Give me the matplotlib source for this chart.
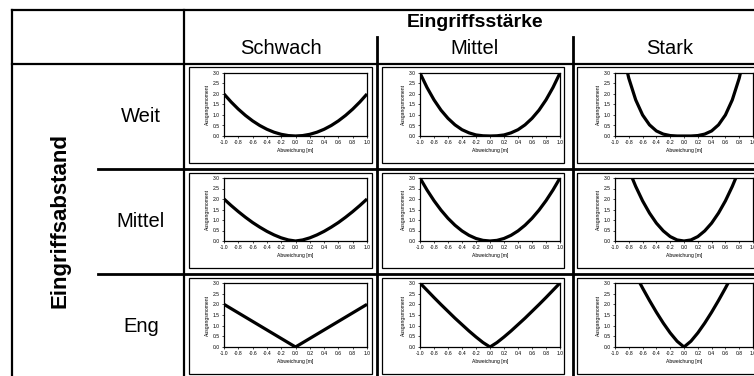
import matplotlib.pyplot as plt
from matplotlib.patches import Rectangle
from matplotlib.ticker import FormatStrFormatter

plt.rcParams['font.family'] = ['Liberation Sans', 'DejaVu Sans']

W, H = 754, 376

# Abweichung [m] and Ausgangsmoment per cell
abweichung = [-1.0, -0.9, -0.8, -0.7, -0.6, -0.5, -0.4, -0.3, -0.2, -0.1, 0.0,
              0.1, 0.2, 0.3, 0.4, 0.5, 0.6, 0.7, 0.8, 0.9, 1.0]

weit_schwach = [2.00, 1.62, 1.28, 0.98, 0.72, 0.50, 0.32, 0.18, 0.08, 0.02, 0.00,
                0.02, 0.08, 0.18, 0.32, 0.50, 0.72, 0.98, 1.28, 1.62, 2.00]
weit_mittel = [3.00, 2.31, 1.72, 1.23, 0.84, 0.53, 0.30, 0.15, 0.05, 0.01, 0.00,
               0.01, 0.05, 0.15, 0.30, 0.53, 0.84, 1.23, 1.72, 2.31, 3.00]
weit_stark = [6.00, 4.15, 2.75, 1.72, 1.00, 0.53, 0.24, 0.09, 0.02, 0.00, 0.00,
              0.00, 0.02, 0.09, 0.24, 0.53, 1.00, 1.72, 2.75, 4.15, 6.00]

mittel_schwach = [2.00, 1.69, 1.40, 1.13, 0.88, 0.66, 0.46, 0.29, 0.15, 0.05, 0.00,
                  0.05, 0.15, 0.29, 0.46, 0.66, 0.88, 1.13, 1.40, 1.69, 2.00]
mittel_mittel = [3.00, 2.43, 1.92, 1.47, 1.08, 0.75, 0.48, 0.27, 0.12, 0.03, 0.00,
                 0.03, 0.12, 0.27, 0.48, 0.75, 1.08, 1.47, 1.92, 2.43, 3.00]
mittel_stark = [5.30, 4.29, 3.39, 2.60, 1.91, 1.33, 0.85, 0.48, 0.21, 0.05, 0.00,
                0.05, 0.21, 0.48, 0.85, 1.33, 1.91, 2.60, 3.39, 4.29, 5.30]

eng_schwach = [2.00, 1.80, 1.60, 1.40, 1.20, 1.00, 0.80, 0.60, 0.40, 0.20, 0.00,
               0.20, 0.40, 0.60, 0.80, 1.00, 1.20, 1.40, 1.60, 1.80, 2.00]
eng_mittel = [3.00, 2.66, 2.32, 1.99, 1.67, 1.35, 1.05, 0.75, 0.47, 0.21, 0.00,
              0.21, 0.47, 0.75, 1.05, 1.35, 1.67, 1.99, 2.32, 2.66, 3.00]
eng_stark = [5.36, 4.67, 4.01, 3.37, 2.76, 2.18, 1.63, 1.12, 0.66, 0.27, 0.00,
             0.27, 0.66, 1.12, 1.63, 2.18, 2.76, 3.37, 4.01, 4.67, 5.36]

staerken = ["Schwach", "Mittel", "Stark"]
abstaende = ["Weit", "Mittel", "Eng"]
kurven = [[weit_schwach, weit_mittel, weit_stark],
          [mittel_schwach, mittel_mittel, mittel_stark],
          [eng_schwach, eng_mittel, eng_stark]]

x_ticks = [-1.0, -0.8, -0.6, -0.4, -0.2, 0.0, 0.2, 0.4, 0.6, 0.8, 1.0]
y_ticks = [0.0, 0.5, 1.0, 1.5, 2.0, 2.5, 3.0]

# layout in pixels (x from left, y from top)
col_lines = [184, 377, 573, 766]
row_lines = [64, 169, 274, 380]
frame_x = [(189, 372), (382, 564), (577, 762)]
frame_y = [(67, 163), (173, 268), (278, 374)]
plot_x = [(224, 367), (420, 560), (615, 753)]
plot_y = [(73, 136), (178, 241), (283, 347)]

fig = plt.figure(figsize=(W / 100, H / 100), dpi=100)
bg = fig.add_axes([0, 0, 1, 1])
bg.set_xlim(0, W)
bg.set_ylim(H, 0)
bg.axis("off")

lw = 1.6
# table grid
bg.plot([12, W + 10], [10, 10], color="black", lw=lw)
bg.plot([12, 12], [10, H + 5], color="black", lw=lw)
bg.plot([12, W + 10], [64, 64], color="black", lw=lw)
bg.plot([184, 184], [10, H + 5], color="black", lw=lw)
for xc in col_lines[1:3]:
    bg.plot([xc, xc], [37, H + 5], color="black", lw=lw + 0.4)
for yr in row_lines[1:3]:
    bg.plot([98, W + 10], [yr, yr], color="black", lw=lw + 0.4)

# header texts
bg.text((col_lines[1] + col_lines[2]) / 2, 27, "Eingriffsstärke", ha="center",
        va="baseline", fontsize=14, fontweight="bold")
for j, name in enumerate(staerken):
    bg.text((col_lines[j] + col_lines[j + 1]) / 2, 54, name, ha="center",
            va="baseline", fontsize=14.5)
bg.text(60, 221, "Eingriffsabstand", ha="center", va="center", rotation=90,
        fontsize=16, fontweight="bold")
for i, name in enumerate(abstaende):
    bg.text(141, (row_lines[i] + row_lines[i + 1]) / 2, name, ha="center",
            va="center", fontsize=14.5)

for i in range(3):
    for j in range(3):
        fx0, fx1 = frame_x[j]
        fy0, fy1 = frame_y[i]
        bg.add_patch(Rectangle((fx0, fy0), fx1 - fx0, fy1 - fy0, fill=False,
                               edgecolor="black", lw=0.9))
        px0, px1 = plot_x[j]
        py0, py1 = plot_y[i]
        ax = fig.add_axes([px0 / W, 1 - py1 / H, (px1 - px0) / W, (py1 - py0) / H])
        ax.plot(abweichung, kurven[i][j], color="black", lw=2.3,
                solid_joinstyle="round", solid_capstyle="butt")
        ax.set_xlim(-1, 1)
        ax.set_ylim(0, 3)
        ax.set_xticks(x_ticks)
        ax.set_yticks(y_ticks)
        ax.xaxis.set_major_formatter(FormatStrFormatter("%.1f"))
        ax.yaxis.set_major_formatter(FormatStrFormatter("%.1f"))
        ax.tick_params(labelsize=3.6, length=1.5, width=0.5, pad=1.5,
                       colors="black")
        ax.set_xlabel("Abweichung [m]", fontsize=3.6, labelpad=2)
        ax.set_ylabel("Ausgangsmoment", fontsize=3.6, labelpad=2)
        for s in ax.spines.values():
            s.set_linewidth(0.9)

fig.savefig("out.png", dpi=100)
